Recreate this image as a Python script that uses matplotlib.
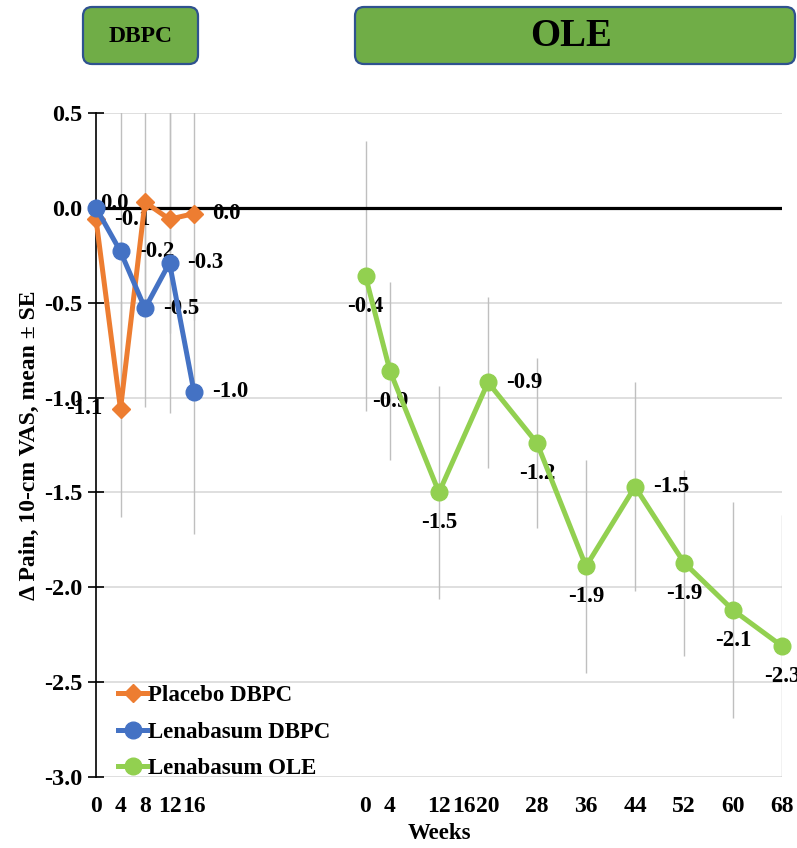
import numpy as np
import matplotlib.pyplot as plt
from matplotlib.patches import FancyBboxPatch

plt.rcParams['font.family'] = ['Liberation Serif', 'DejaVu Serif']
plt.rcParams['font.weight'] = 'bold'

# weeks on study
dbpc_weeks = [0, 4, 8, 12, 16]
ole_weeks = [0, 4, 12, 20, 28, 36, 44, 52, 60, 68]
ole_tick_weeks = [0, 4, 12, 16, 20, 28, 36, 44, 52, 60, 68]
ole_offset = 44  # OLE week 0 sits 44 weeks to the right of DBPC week 0

# change in pain, mean and SE
placebo_mean = [-0.06, -1.06, 0.03, -0.06, -0.03]
placebo_se = [0.0, 0.57, 0.55, 0.60, 0.56]
lena_mean = [0.0, -0.23, -0.53, -0.29, -0.97]
lena_se = [0.0, 0.75, 0.52, 0.79, 0.75]
ole_mean = [-0.36, -0.86, -1.50, -0.92, -1.24, -1.89, -1.47, -1.87, -2.12, -2.31]
ole_se = [0.71, 0.47, 0.56, 0.45, 0.45, 0.56, 0.55, 0.49, 0.57, 0.69]

# where each data label goes (None = not shown)
placebo_lab = ['right', 'left', None, None, 'right']
lena_lab = ['near', 'right', 'right', 'right', 'right']
ole_lab = ['below', 'below', 'below', 'right', 'below', 'below', 'right',
           'below', 'below', 'below']

c_orange = '#ED7D31'
c_blue = '#4472C4'
c_green = '#92D050'
c_err = '#BFBFBF'
fs = 16.5

fig = plt.figure(figsize=(7.97, 8.48), dpi=100)
ax = fig.add_axes([96/797, 1-777/848, (782-96)/797, (777-113)/848])

ole_x = [w + ole_offset for w in ole_weeks]

def fmt(v):
    s = '{:.1f}'.format(v)
    if s == '-0.0':
        s = '0.0'
    return s

offsets = {'right': (13, 0, 'left'), 'left': (-13, 0, 'right'),
           'below': (0, -22, 'center'), 'near': (3, 3, 'left')}

def series(x, y, se, color, marker, ms, labs, name):
    ax.errorbar(x, y, yerr=se, fmt='none', ecolor=c_err, elinewidth=1, zorder=1)
    ax.plot(x, y, color=color, lw=3.6, marker=marker, ms=ms, zorder=3,
            clip_on=False, label=name)
    for xi, yi, lab in zip(x, y, labs):
        if lab is None:
            continue
        dx, dy, ha = offsets[lab]
        ax.annotate(fmt(yi), (xi, yi), xytext=(dx, dy), textcoords='offset points',
                    ha=ha, va='center', fontsize=fs, fontweight='bold', zorder=2)

series(dbpc_weeks, placebo_mean, placebo_se, c_orange, 'D', 9, placebo_lab, 'Placebo DBPC')
series(dbpc_weeks, lena_mean, lena_se, c_blue, 'o', 12, lena_lab, 'Lenabasum DBPC')
series(ole_x, ole_mean, ole_se, c_green, 'o', 12, ole_lab, 'Lenabasum OLE')

ax.axhline(0, color='black', lw=2.3, zorder=2.5)
ax.set_xlim(0, 112)
ax.set_ylim(-3.0, 0.5)
ax.set_yticks(np.arange(-3.0, 0.51, 0.5))
ax.set_yticklabels(['{:.1f}'.format(v) for v in np.arange(-3.0, 0.51, 0.5)])
ax.yaxis.grid(True, color='#D9D9D9', lw=1.2)
ax.set_axisbelow(True)

xt = dbpc_weeks + [w + ole_offset for w in ole_tick_weeks]
xl = [str(w) for w in dbpc_weeks] + [str(w) for w in ole_tick_weeks]
ax.set_xticks(xt)
ax.set_xticklabels(xl)
ax.tick_params(axis='x', length=0, pad=14, labelsize=17)
ax.tick_params(axis='y', direction='inout', length=12, width=1.2, pad=4, labelsize=17.5)
for s in ['top', 'right', 'bottom']:
    ax.spines[s].set_visible(False)
ax.spines['left'].set_linewidth(1.2)

ax.set_xlabel('Weeks', fontsize=fs, fontweight='bold', labelpad=4)
ax.set_ylabel('\u0394 Pain, 10-cm VAS, mean \u00b1 SE', fontsize=17, fontweight='bold',
              labelpad=3)

leg = ax.legend(loc='lower left', bbox_to_anchor=(0.016, -0.021), frameon=False,
                fontsize=fs, handlelength=1.25, handletextpad=0.05,
                labelspacing=0.69, borderpad=0)

# phase boxes along the top
top = fig.add_axes([0, 0, 1, 1])
top.set_xlim(0, 797)
top.set_ylim(848, 0)
top.axis('off')
top.patch.set_visible(False)
boxes = [('DBPC', 83, 198, 17), ('OLE', 355, 795, 28)]
for name, x0, x1, size in boxes:
    top.add_patch(FancyBboxPatch((x0, 7), x1 - x0, 57,
                                 boxstyle='round,pad=0,rounding_size=9',
                                 fc='#70AD47', ec='#2F528F', lw=1.6))
    top.text((x0 + x1) / 2 - (4 if name == 'OLE' else 0), 36.5, name,
             ha='center', va='center', fontsize=size, fontweight='bold')

fig.savefig('out.png', dpi=100)
